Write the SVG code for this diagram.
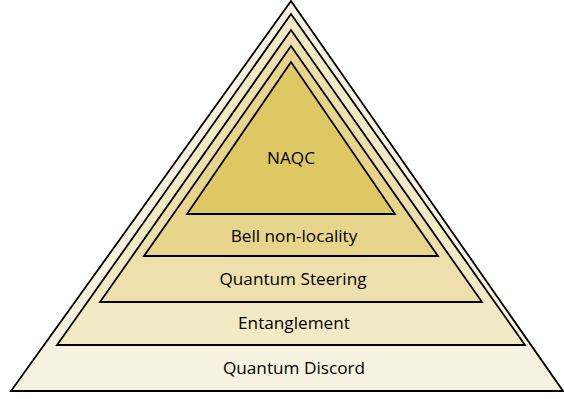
<svg xmlns="http://www.w3.org/2000/svg" width="564" height="399" viewBox="0 0 564 399">
<style>
.t{stroke:#000;stroke-width:1.8;stroke-linejoin:miter}
.l{font-family:"Open Sans","Liberation Sans",sans-serif;font-size:17.2px;fill:#000;text-anchor:middle}
</style>
<rect width="564" height="399" fill="#fff"/>
<g id="discord"><polygon class="t" points="291,1 11,391 563,391" fill="#F7F2DF"/><text class="l" x="294" y="374">Quantum Discord</text></g>
<g id="entanglement"><polygon class="t" points="291,14 57,345 525,345" fill="#F2E9C5"/><text class="l" x="294" y="329">Entanglement</text></g>
<g id="steering"><polygon class="t" points="291,30 100,302 482,302" fill="#EDE0AD"/><text class="l" x="293" y="285">Quantum Steering</text></g>
<g id="bell"><polygon class="t" points="291,46 144,256 438,256" fill="#E7D58C"/><text class="l" x="294" y="242">Bell non-locality</text></g>
<g id="naqc"><polygon class="t" points="291,62 187,214 395,214" fill="#DEC864"/><text class="l" x="291" y="164">NAQC</text></g>
</svg>
